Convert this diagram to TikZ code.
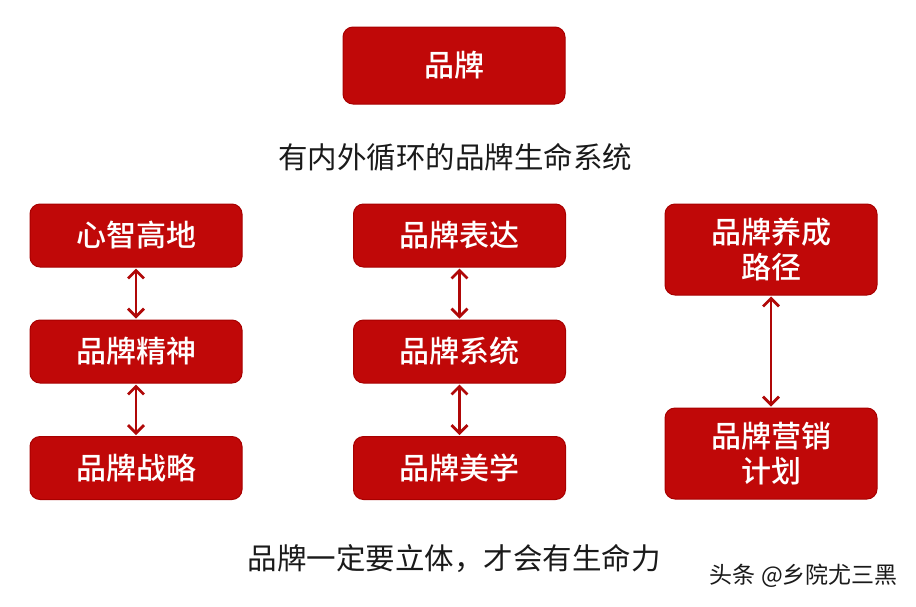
\documentclass[tikz,border=0pt]{standalone}
\usepackage{fontspec}
\setmainfont{Noto Sans CJK SC}[BoldFont={Noto Sans CJK SC Medium}]
\usetikzlibrary{arrows.meta}
\definecolor{boxred}{HTML}{C00808}
\definecolor{boxedge}{HTML}{A80000}
\definecolor{arrred}{HTML}{B00808}
\definecolor{txtdark}{HTML}{1A1A1A}
\begin{document}
\begin{tikzpicture}[x=1pt,y=-1pt,
  redbox/.style={draw=boxedge, line width=1pt, fill=boxred, rounded corners=10pt, text=white,
    font=\fontsize{30}{35}\selectfont\bfseries, align=center, inner sep=0pt},
  smallbox/.style={redbox, minimum width=212pt, minimum height=63pt},
  tallbox/.style={redbox, minimum width=212pt, minimum height=91pt},
  link/.style={draw=arrred, line width=2.8pt, {Straight Barb[length=8pt,width=16pt,line width=2.8pt]}-{Straight Barb[length=8pt,width=16pt,line width=2.8pt]}, shorten <=1pt, shorten >=1pt},
  caption/.style={text=txtdark, font=\fontsize{29.5}{34}\selectfont, inner sep=0pt}
]
\useasboundingbox[fill=white] (0,0) rectangle (916,606);

\node[redbox, minimum width=222pt, minimum height=77pt] (top) at (454,65.5) {品牌};
\node[caption] (title) at (455,157) {有内外循环的品牌生命系统};

\node[smallbox] (l1) at (136,235.5) {心智高地};
\node[smallbox] (l2) at (136,351.5) {品牌精神};
\node[smallbox] (l3) at (136,468) {品牌战略};

\node[smallbox] (m1) at (459.5,235.5) {品牌表达};
\node[smallbox] (m2) at (459.5,351.5) {品牌系统};
\node[smallbox] (m3) at (459.5,468) {品牌美学};

\node[tallbox] (r1) at (771,249.5) {品牌养成\\路径};
\node[tallbox] (r2) at (771,453.5) {品牌营销\\计划};

\draw[link] (l1.south) -- (l2.north);
\draw[link] (l2.south) -- (l3.north);
\draw[link] (m1.south) -- (m2.north);
\draw[link] (m2.south) -- (m3.north);
\draw[link] (r1.south) -- (r2.north);

\node[caption] (bottom) at (454,559) {品牌一定要立体，才会有生命力};
\node[text=txtdark, font=\fontsize{23}{26}\selectfont, inner sep=0pt, anchor=east] (mark) at (898,576) {头条 @乡院尤三黑};
\end{tikzpicture}
\end{document}
